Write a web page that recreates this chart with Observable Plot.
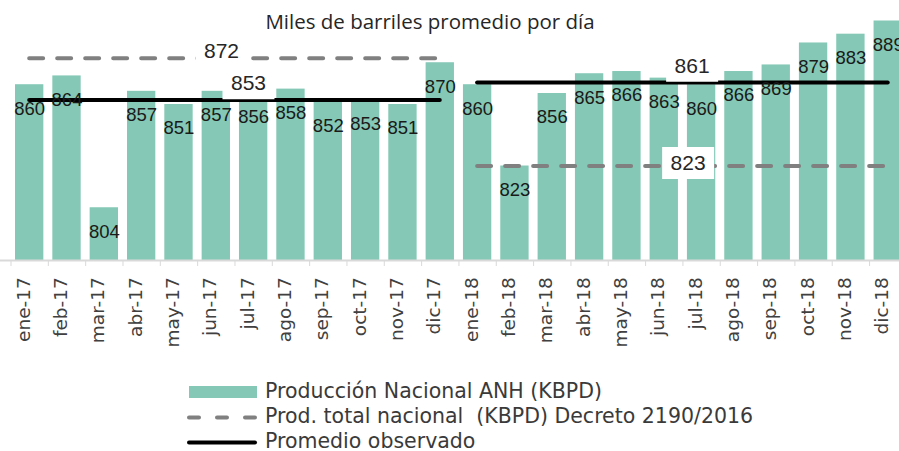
<!DOCTYPE html>
<html><head><meta charset="utf-8">
<script src="https://cdn.jsdelivr.net/npm/d3@7"></script>
<script src="https://cdn.jsdelivr.net/npm/@observablehq/plot@0.6"></script>
<style>
html,body{margin:0;padding:0;background:#fff;}
#wrap{position:relative;width:899px;height:451px;overflow:hidden;background:#fff;}
#title{position:absolute;left:0;width:860px;top:7px;text-align:center;font-family:"Open Sans";font-size:20.5px;line-height:normal;color:#262626;white-space:nowrap;}
#legend{position:absolute;left:0;top:378.7px;font-family:"DejaVu Sans";font-size:20.5px;color:#3a3a3a;}
.row{display:flex;align-items:center;height:25px;padding-left:187px;white-space:pre;}
.row svg{margin-right:6px;display:block;flex:none;}
</style></head><body>
<div id="wrap"><div id="chart"></div><div id="title"></div><div id="legend"></div></div>
<script>
// ---- data ----
const months = ["ene-17","feb-17","mar-17","abr-17","may-17","jun-17","jul-17","ago-17","sep-17","oct-17","nov-17","dic-17",
                "ene-18","feb-18","mar-18","abr-18","may-18","jun-18","jul-18","ago-18","sep-18","oct-18","nov-18","dic-18"];
const production = [860,864,804,857,851,857,856,858,852,853,851,870,
                    860,823,856,865,866,863,860,866,869,879,883,889];
const yearFirstMonth = ["ene-17","ene-18"];
const yearLastMonth = ["dic-17","dic-18"];
const decreeValues = [872, 823];
const observedAverages = [853, 861];
const axisMin = 780, axisMax = 889;
const titleText = "Miles de barriles promedio por día";
const legendLabels = ["Producción Nacional ANH (KBPD)", "Prod. total nacional  (KBPD) Decreto 2190/2016", "Promedio observado"];

// ---- derived tables ----
const idx = new Map(months.map((m, i) => [m, i]));
const bars = months.map((m, i) => ({month: m, i, value: production[i]}));
const periods = yearFirstMonth.map((f, k) => ({start: idx.get(f), end: idx.get(yearLastMonth[k]), decree: decreeValues[k], avg: observedAverages[k]}));
const edges = d3.range(months.length + 1).map(i => i - 0.5);

const BAR = "#84c8b5", DASH = "#808080", AVG = "#000000";
const rectSym = {draw(ctx) { ctx.rect(-26, -16, 52, 32); }};
const mid = p => (p.start + p.end) / 2;

function boxedLabel(k, field, dx, dy) {
  const d = [periods[k]];
  return [
    Plot.dot(d, {x: mid, y: field, symbol: rectSym, r: 10, fill: "white", stroke: "none", dx, dy}),
    Plot.text(d, {x: mid, y: field, text: p => String(p[field]), dx, dy, fontFamily: "Liberation Sans", fontSize: 21, fill: "#262626"})
  ];
}

const chart = Plot.plot({
  width: 899, height: 360,
  marginTop: 0, marginLeft: 0, marginRight: 0, marginBottom: 100,
  style: "background:white;color:#d9d9d9;font-family:'DejaVu Sans';font-size:18.5px;",
  x: {type: "linear", domain: [-0.5, months.length - 0.5], range: [10.5, 906.4], ticks: edges, tickSize: 6, tickFormat: () => "", label: null},
  y: {domain: [axisMin, axisMax], range: [260, 20.5], axis: null},
  marks: [
    Plot.rect(bars, {x1: d => d.i - 0.5, x2: d => d.i + 0.5, y1: axisMin, y2: "value", fill: BAR, insetLeft: 4.5, insetRight: 4.5}),
    Plot.ruleY([axisMin], {stroke: "#d9d9d9", strokeWidth: 2}),
    Plot.ruleY(periods, {y: "decree", x1: "start", x2: "end", stroke: DASH, strokeWidth: 4, strokeDasharray: "14,14", strokeLinecap: "round"}),
    Plot.ruleY(periods, {y: "avg", x1: "start", x2: "end", stroke: AVG, strokeWidth: 4, strokeLinecap: "round"}),
    Plot.text(bars, {x: "i", y: "value", text: d => String(d.value), dy: 24, fontFamily: "Liberation Sans", fontSize: 18.5, fill: "#1a1a1a"}),
    Plot.text(months, {x: (d, i) => i, frameAnchor: "bottom", text: d => d, rotate: -90, textAnchor: "end", dy: 16.7, fill: "#404040", fontFamily: "DejaVu Sans", fontSize: 18.5}),
    ...boxedLabel(0, "decree", -13.5, -7.2),
    ...boxedLabel(0, "avg", 13.5, -16.8),
    ...boxedLabel(1, "avg", 9.2, -16.7),
    ...boxedLabel(1, "decree", 5.2, -3)
  ]
});
document.getElementById("chart").appendChild(chart);
document.getElementById("title").textContent = titleText;

// ---- legend ----
const NS = "http://www.w3.org/2000/svg";
const legend = document.getElementById("legend");
legendLabels.forEach((lab, k) => {
  const row = document.createElement("div");
  row.className = "row";
  const s = document.createElementNS(NS, "svg");
  s.setAttribute("width", 72); s.setAttribute("height", 25);
  let el;
  if (k === 0) {
    el = document.createElementNS(NS, "rect");
    el.setAttribute("x", 2); el.setAttribute("y", 7); el.setAttribute("width", 68); el.setAttribute("height", 12);
    el.setAttribute("fill", BAR);
  } else {
    el = document.createElementNS(NS, "line");
    el.setAttribute("x1", 2); el.setAttribute("x2", 68); el.setAttribute("y1", 13.5); el.setAttribute("y2", 13.5);
    el.setAttribute("stroke", k === 1 ? DASH : AVG); el.setAttribute("stroke-width", 4); el.setAttribute("stroke-linecap", "round");
    if (k === 1) el.setAttribute("stroke-dasharray", "10,18");
  }
  s.appendChild(el);
  row.appendChild(s);
  row.appendChild(document.createTextNode(lab));
  legend.appendChild(row);
});
</script>
</body></html>
